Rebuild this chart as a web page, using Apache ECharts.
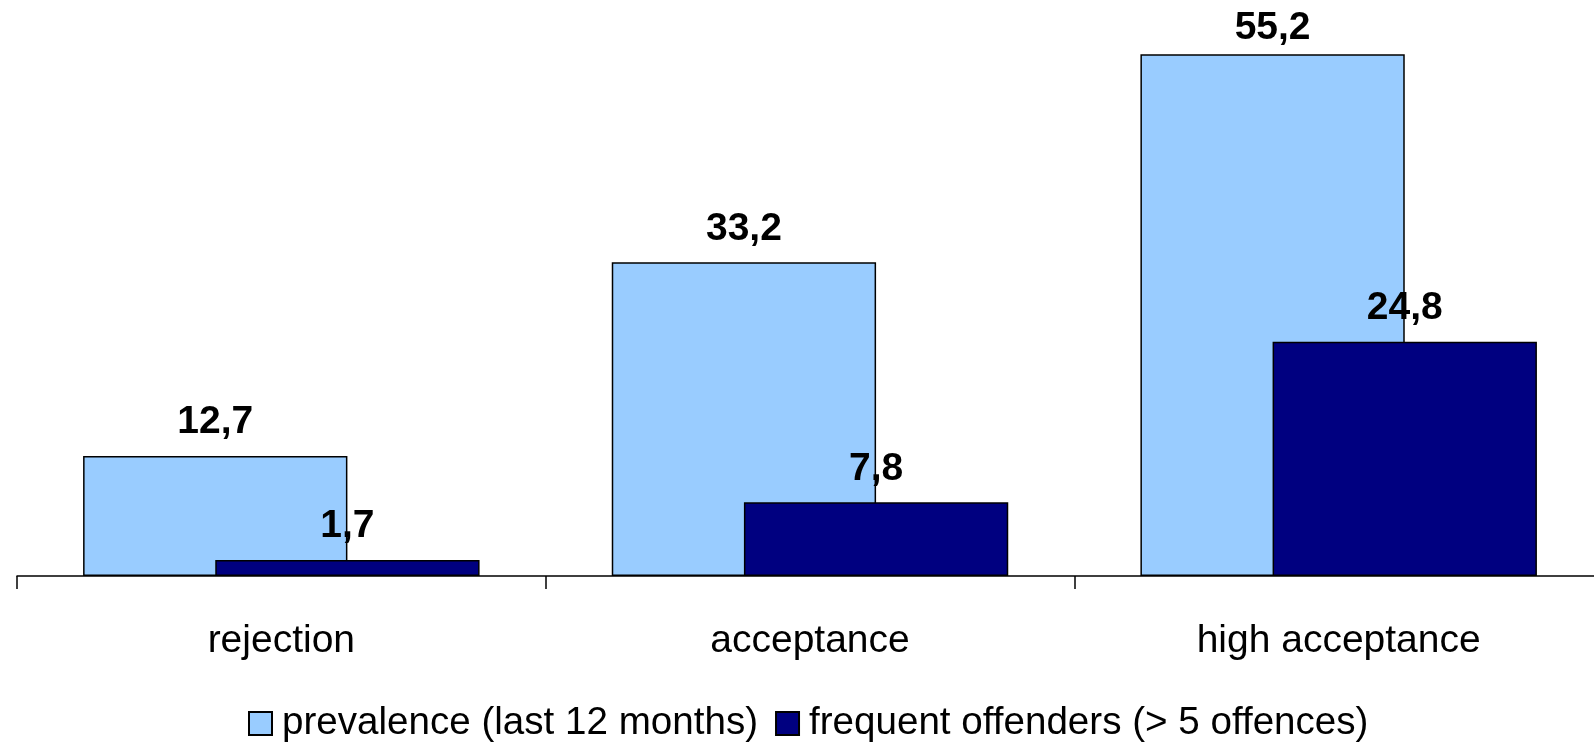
<!DOCTYPE html>
<html>
<head>
<meta charset="utf-8">
<script src="https://cdn.jsdelivr.net/npm/echarts@6/dist/echarts.min.js"></script>
<style>
html,body{margin:0;padding:0;background:#fff;}
#chart{width:1594px;height:742px;}
</style>
</head>
<body>
<div id="chart"></div>
<script>
var categories = ['rejection', 'acceptance', 'high acceptance'];
var prevalence = [12.7, 33.2, 55.2];
var frequent = [1.7, 7.8, 24.8];
var seriesNames = ['prevalence (last 12 months)', 'frequent offenders (> 5 offences)'];

var FONT = '"Liberation Sans", Arial, sans-serif';
function fmt(p){ return String(p.value).replace('.', ','); }
function build(arr){
  return arr.map(function(v){
    return v > 50 ? {value: v, label: {distance: 7}} : v;
  });
}

var chart = echarts.init(document.getElementById('chart'));
chart.setOption({
  animation: false,
  backgroundColor: '#fff',
  textStyle: {fontFamily: FONT},
  grid: {left: 17, top: 9, width: 1586, bottom: 166, outerBoundsMode: 'none', containLabel: false},
  legend: {
    left: 243, top: 699,
    itemWidth: 23, itemHeight: 23, itemGap: 17,
    icon: 'rect',
    textStyle: {fontFamily: FONT, fontSize: 38.6, color: '#000', padding: [0,0,0,5]},
    data: seriesNames
  },
  xAxis: {
    type: 'category',
    data: categories,
    axisLine: {lineStyle: {color: '#000', width: 1.5}},
    axisTick: {show: true, length: 13, lineStyle: {color: '#000', width: 1.5}},
    axisLabel: {fontFamily: FONT, fontSize: 39, color: '#000', margin: 46},
    splitLine: {show: false}
  },
  yAxis: {type: 'value', min: 0, max: 60, show: false, splitLine: {show: false}},
  series: [
    {
      name: seriesNames[0], type: 'bar',
      data: build(prevalence),
      barWidth: '50%', barGap: '-50%',
      itemStyle: {color: '#99CCFF', borderColor: '#000', borderWidth: 1.5},
      label: {show: true, position: 'top', distance: 14, formatter: fmt,
              fontFamily: FONT, fontSize: 39, fontWeight: 'bold', color: '#000'}
    },
    {
      name: seriesNames[1], type: 'bar',
      data: build(frequent),
      barWidth: '50%', barGap: '-50%',
      itemStyle: {color: '#000080', borderColor: '#000', borderWidth: 1.5},
      label: {show: true, position: 'top', distance: 14, formatter: fmt,
              fontFamily: FONT, fontSize: 39, fontWeight: 'bold', color: '#000'}
    }
  ]
});
</script>
</body>
</html>
